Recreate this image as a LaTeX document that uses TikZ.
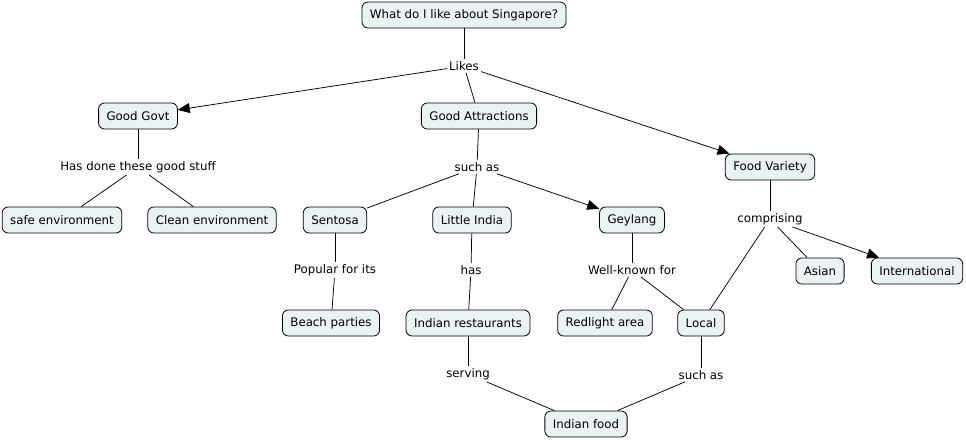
\documentclass[tikz,border=0pt]{standalone}
\usepackage{fontspec}
\setmainfont{DejaVu Sans}
\usetikzlibrary{arrows.meta}
\definecolor{boxfill}{HTML}{EBF2F4}
\begin{document}
\begin{tikzpicture}[x=1pt,y=-1pt,
  concept/.style={draw=black,line width=0.8pt,fill=boxfill,rounded corners=6pt,minimum height=26pt,inner xsep=8pt,font=\fontsize{11.8}{13}\selectfont},
  lbl/.style={inner sep=2pt,font=\fontsize{11.8}{13}\selectfont},
  conn/.style={draw=black,line width=0.75pt},
  arr/.style={conn,-{Triangle[length=12pt,width=10pt]}}]
\useasboundingbox (0,0) rectangle (966,439);
\node[concept] (q) at (464,15) {What do I like about Singapore?};
\node[lbl] (likes) at (464,66) {Likes};
\node[concept] (govt) at (138,116) {Good Govt};
\node[concept] (attr) at (479,116) {Good Attractions};
\node[concept] (food) at (770,167) {Food Variety};
\node[lbl] (hasdone) at (138,167) {Has done these good stuff};
\node[concept] (safe) at (62,220) {safe environment};
\node[concept] (clean) at (212,220) {Clean environment};
\node[lbl] (suchas1) at (477,167) {such as};
\node[concept] (sentosa) at (335,220) {Sentosa};
\node[concept] (india) at (472,220) {Little India};
\node[concept] (geylang) at (632,220) {Geylang};
\node[lbl] (compr) at (770,219) {comprising};
\node[concept] (asian) at (820,271) {Asian};
\node[concept] (intl) at (917,271) {International};
\node[lbl] (popular) at (335,270) {Popular for its};
\node[lbl] (has) at (471,270) {has};
\node[lbl] (wellknown) at (632,270) {Well-known for};
\node[concept] (beach) at (331,323) {Beach parties};
\node[concept] (rest) at (468,323) {Indian restaurants};
\node[concept] (red) at (605,323) {Redlight area};
\node[concept] (local) at (701,323) {Local};
\node[lbl] (serving) at (468,374) {serving};
\node[lbl] (suchas2) at (701,375) {such as};
\node[concept] (ifood) at (586,424) {Indian food};
\draw[conn] (q) -- (likes);
\draw[arr] (likes) -- (govt);
\draw[conn] (likes) -- (attr);
\draw[arr] (likes) -- (food);
\draw[conn] (govt) -- (hasdone);
\draw[conn] (hasdone) -- (safe);
\draw[conn] (hasdone) -- (clean);
\draw[conn] (attr) -- (suchas1);
\draw[conn] (suchas1) -- (sentosa);
\draw[conn] (suchas1) -- (india);
\draw[arr] (suchas1) -- (geylang);
\draw[conn] (food) -- (compr);
\draw[conn] (compr) -- (local);
\draw[conn] (compr) -- (asian);
\draw[arr] (compr) -- (intl);
\draw[conn] (sentosa) -- (popular);
\draw[conn] (popular) -- (beach);
\draw[conn] (india) -- (has);
\draw[conn] (has) -- (rest);
\draw[conn] (geylang) -- (wellknown);
\draw[conn] (wellknown) -- (red);
\draw[conn] (wellknown) -- (local);
\draw[conn] (rest) -- (serving);
\draw[conn] (serving) -- (ifood);
\draw[conn] (local) -- (suchas2);
\draw[conn] (suchas2) -- (ifood);
\end{tikzpicture}
\end{document}
